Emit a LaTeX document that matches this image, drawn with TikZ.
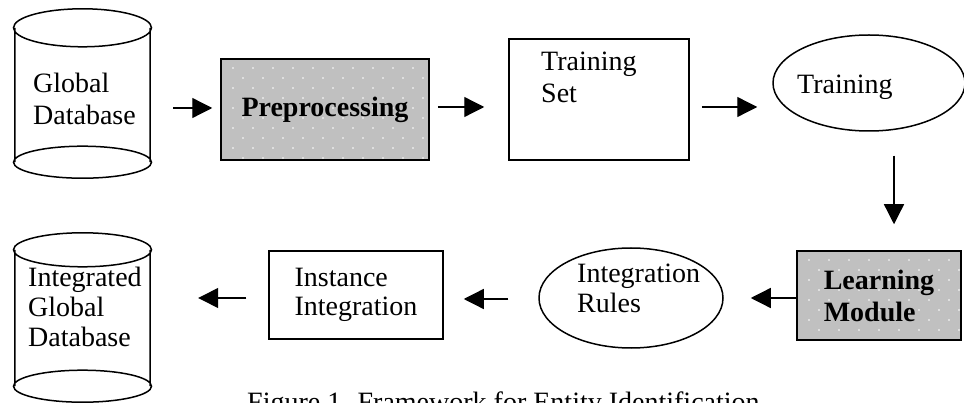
\documentclass[tikz,border=0pt]{standalone}
\usepackage{fontspec}
\setmainfont{Liberation Serif}
\usetikzlibrary{arrows.meta,shapes.geometric}
\definecolor{boxgray}{RGB}{192,192,192}
\tikzset{
  outline/.style={line width=1.5pt},
  arr/.style={line width=1.3pt,-{Triangle[length=20pt,width=20pt]}},
  txt/.style={inner sep=0pt,align=left,font=\fontsize{28}{31}\selectfont},
  lbl/.style={txt,anchor=base west},
  plainbox/.style={draw,outline,rectangle,inner sep=0pt},
  oval/.style={draw,outline,ellipse,inner sep=0pt},
  cylbody/.style={rectangle,inner sep=0pt},
  dotted box/.style={draw,outline,rectangle,inner sep=0pt,fill=boxgray,
    path picture={
      \foreach \i in {0,...,11}{
        \foreach \j in {0,...,5}{
          \fill[white] ([xshift=12pt+20pt*\i,yshift=-9pt-20pt*\j]path picture bounding box.north west) circle[radius=0.9pt];
          \fill[white] ([xshift=22pt+20pt*\i,yshift=-19pt-20pt*\j]path picture bounding box.north west) circle[radius=0.9pt];
        }}
    }},
}
\begin{document}
\begin{tikzpicture}[x=1pt,y=-1pt]
\useasboundingbox (0,0) rectangle (964,403);
\clip (0,0) rectangle (964,403);

% Global Database cylinder
\node[cylbody,minimum width=135pt,minimum height=134pt] (cyl1) at (82.5,95) {};
\draw[outline] (cyl1.north west) -- (cyl1.south west)
  (cyl1.north east) -- (cyl1.south east)
  (cyl1.north) ellipse[x radius=69pt,y radius=19pt]
  (cyl1.south) ellipse[x radius=69pt,y radius=16pt];
\node[lbl,font=\fontsize{28}{32}\selectfont] (cyl1t) at (33,125) {Global\\Database};

% Preprocessing
\node[dotted box,minimum width=208pt,minimum height=101pt,font=\fontsize{28}{31}\selectfont\bfseries] (pre) at (325,109.5) {Preprocessing};

% Training Set
\node[plainbox,minimum width=180pt,minimum height=121pt] (ts) at (599,99.5) {};
\node[lbl,font=\fontsize{28}{32}\selectfont] (tst) at (541,103) {Training\\Set};

% Training ellipse
\node[oval,minimum width=192pt,minimum height=96pt] (tr) at (869,83) {};
\node[lbl] (trt) at (797,94) {Training};

% Learning Module
\node[dotted box,txt,minimum width=164pt,minimum height=89pt,font=\fontsize{28}{32}\selectfont\bfseries] (lm) at (879,295.5) {Learning\\Module};

% Integration Rules
\node[oval,minimum width=184pt,minimum height=100pt] (ir) at (631,298) {};
\node[lbl] (irt) at (577,313) {Integration\\Rules};

% Instance Integration
\node[plainbox,txt,minimum width=174pt,minimum height=88pt,font=\fontsize{28}{29}\selectfont] (ii) at (356,295) {Instance\\Integration};

% Integrated Global Database cylinder
\node[cylbody,minimum width=135pt,minimum height=136pt] (cyl2) at (82.5,318) {};
\draw[outline] (cyl2.north west) -- (cyl2.south west)
  (cyl2.north east) -- (cyl2.south east)
  (cyl2.north) ellipse[x radius=69pt,y radius=17pt]
  (cyl2.south) ellipse[x radius=69pt,y radius=16pt];
\node[lbl,font=\fontsize{28}{30}\selectfont] (cyl2t) at (28,347) {Integrated\\Global\\Database};

% connectors
\draw[arr,shorten <=23pt,shorten >=8pt] (cyl1.east |- 0,108) -- (pre.west |- 0,108);
\draw[arr,shorten <=8pt,shorten >=24pt] (pre.east |- 0,107) -- (ts.west |- 0,107);
\draw[arr,shorten <=12pt,shorten >=15pt] (ts.east |- 0,107) -- (tr.west |- 0,107);
\draw[arr,shorten <=24pt,shorten >=26pt] (tr.south -| 894,0) -- (lm.north -| 894,0);
\draw[arr,shorten >=27pt] (lm.west |- 0,298) -- (ir.east |- 0,298);
\draw[arr,shorten <=30pt,shorten >=20pt] (ir.west |- 0,299) -- (ii.east |- 0,299);
\draw[arr,shorten <=22pt,shorten >=48pt] (ii.west |- 0,298) -- (cyl2.east |- 0,298);

% caption (cut off at the bottom edge, as in the source)
\node[lbl] (cap) at (247,411) {Figure 1. Framework for Entity Identification};
\end{tikzpicture}
\end{document}
